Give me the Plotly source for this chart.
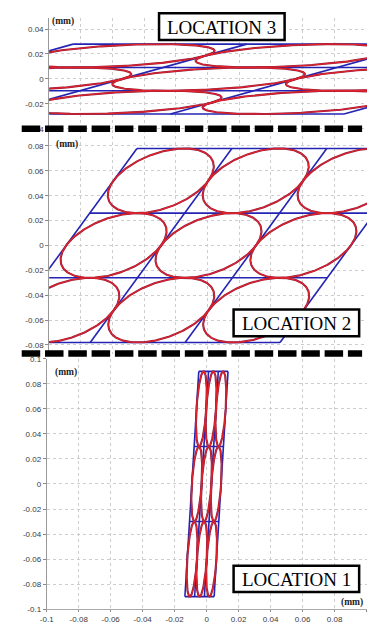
import numpy as np
import plotly.graph_objects as go

W, H = 367, 625

# Lattice (mm): corner of the 3x3 patch, cell vectors a and b
LOC3_ORIGIN = [-0.2427, -0.0282]
LOC3_A = [0.1096, 0.0]
LOC3_B = [0.0526, 0.0187]

LOC2_ORIGIN = [-0.134, -0.078]
LOC2_A = [0.0599, 0.0]
LOC2_B = [0.0298, 0.052]

LOC1_ORIGIN = [-0.0136, -0.090]
LOC1_A = [0.0061, 0.0]
LOC1_B = [0.0029, 0.060]

N_CELLS = 3

X_TICKS = [-0.1, -0.08, -0.06, -0.04, -0.02, 0, 0.02, 0.04, 0.06, 0.08, 0.1]
X_TEXT = ["-0.1", "-0.08", "-0.06", "-0.04", "-0.02", "0", "0.02", "0.04", "0.06", "0.08", "0.1"]
P1_YTICKS = [0.04, 0.02, 0, -0.02, -0.04]
P1_YTEXT = ["0.04", "0.02", "0", "-0.02", "-0.04"]
P2_YTICKS = [0.08, 0.06, 0.04, 0.02, 0, -0.02, -0.04, -0.06, -0.08]
P2_YTEXT = ["0.08", "0.06", "0.04", "0.02", "0", "-0.02", "-0.04", "-0.06", "-0.08"]
P3_YTICKS = [0.1, 0.08, 0.06, 0.04, 0.02, 0, -0.02, -0.04, -0.06, -0.08, -0.1]
P3_YTEXT = ["0.1", "0.08", "0.06", "0.04", "0.02", "0", "-0.02", "-0.04", "-0.06", "-0.08", "-0.1"]

LABELS = ["LOCATION 3", "LOCATION 2", "LOCATION 1"]

BLUE = "#2424b4"
RED = "#e3222a"
DARKRED = "#922040"


def lattice(origin, a, b, n):
    o, a, b = np.array(origin), np.array(a), np.array(b)
    xs, ys = [], []
    for j in range(n + 1):
        p = o + j * b
        q = p + n * a
        xs += [p[0], q[0], None]
        ys += [p[1], q[1], None]
    for i in range(n + 1):
        p = o + i * a
        q = p + n * b
        xs += [p[0], q[0], None]
        ys += [p[1], q[1], None]
    return xs, ys


def ellipses(origin, a, b, n):
    o, a, b = np.array(origin), np.array(a), np.array(b)
    t = np.linspace(0, 2 * np.pi, 241)
    xs, ys = [], []
    for i in range(n):
        for j in range(n):
            c = o + (i + 0.5) * a + (j + 0.5) * b
            px = c[0] + 0.5 * (np.cos(t) * a[0] + np.sin(t) * b[0])
            py = c[1] + 0.5 * (np.cos(t) * a[1] + np.sin(t) * b[1])
            xs += list(px) + [None]
            ys += list(py) + [None]
    return xs, ys


fig = go.Figure()
panels = [
    (LOC3_ORIGIN, LOC3_A, LOC3_B, "x", "y"),
    (LOC2_ORIGIN, LOC2_A, LOC2_B, "x2", "y2"),
    (LOC1_ORIGIN, LOC1_A, LOC1_B, "x3", "y3"),
]
for origin, a, b, xa, ya in panels:
    lx, ly = lattice(origin, a, b, N_CELLS)
    fig.add_trace(go.Scatter(x=lx, y=ly, mode="lines", xaxis=xa, yaxis=ya,
                             line=dict(color=BLUE, width=1.6), hoverinfo="skip"))
    ex, ey = ellipses(origin, a, b, N_CELLS)
    fig.add_trace(go.Scatter(x=ex, y=ey, mode="lines", xaxis=xa, yaxis=ya,
                             line=dict(color=DARKRED, width=2.1), hoverinfo="skip"))
    fig.add_trace(go.Scatter(x=ex, y=ey, mode="lines", xaxis=xa, yaxis=ya,
                             line=dict(color=RED, width=1.1), hoverinfo="skip"))


def px_x(p):
    return p / W


def px_y(p):
    return 1 - p / H


tickfont = dict(family="Liberation Sans, Arial", size=8, color="#3a3a3a")
grid = dict(showgrid=True, gridcolor="#cdcdcd", griddash="dot", gridwidth=1, zeroline=False)

fig.update_layout(
    xaxis=dict(domain=[px_x(43), 1], range=[-0.1, 0.1006], anchor="y",
               tickvals=X_TICKS, showticklabels=False, ticks="", showline=False, **grid),
    yaxis=dict(domain=[px_y(128), px_y(14)], range=[(76 - 128) / 1265, (76 - 14) / 1265], anchor="x",
               tickvals=P1_YTICKS, ticktext=P1_YTEXT, ticks="outside", ticklen=3, tickcolor="#888",
               showline=True, linecolor="#999", linewidth=1, tickfont=tickfont, **grid),
    xaxis2=dict(domain=[px_x(43), 1], range=[-0.1, 0.1006], anchor="y2",
                tickvals=X_TICKS, showticklabels=False, ticks="", showline=False, **grid),
    yaxis2=dict(domain=[px_y(355), px_y(128)], range=[(245 - 355) / 1262, (245 - 128) / 1262], anchor="x2",
                tickvals=P2_YTICKS, ticktext=P2_YTEXT, ticks="outside", ticklen=3, tickcolor="#888",
                showline=True, linecolor="#999", linewidth=1, tickfont=tickfont, **grid),
    xaxis3=dict(domain=[px_x(40.5), 1], range=[-0.1, 0.1003], anchor="y3",
                tickvals=X_TICKS, ticktext=X_TEXT, ticks="outside", ticklen=2, tickcolor="#888",
                showline=True, linecolor="#aaa", linewidth=1, tickfont=tickfont, **grid),
    yaxis3=dict(domain=[px_y(614), px_y(360)], range=[-0.1, 0.1], anchor="x3",
                tickvals=P3_YTICKS, ticktext=P3_YTEXT, ticks="outside", ticklen=3, tickcolor="#888",
                showline=True, linecolor="#999", linewidth=1, tickfont=tickfont, **grid),
)

shapes = []
for yy in [126.5, 354.5]:
    shapes.append(dict(type="line", xref="paper", yref="paper", x0=px_x(15), x1=px_x(362),
                       y0=px_y(yy), y1=px_y(yy), layer="above",
                       line=dict(color="black", width=6.5, dash="18.5px,4.8px")))
boxes = [(155, 9.5, 283, 36.5), (231, 310, 359, 337), (231, 570, 359, 596.5)]
for (x0, y0, x1, y1) in boxes:
    shapes.append(dict(type="rect", xref="paper", yref="paper", x0=px_x(x0), x1=px_x(x1),
                       y0=px_y(y1), y1=px_y(y0), layer="above", fillcolor="white",
                       line=dict(color="black", width=2.5)))
fig.update_layout(shapes=shapes)

annotations = []
for (x0, y0, x1, y1), lab in zip(boxes, LABELS):
    annotations.append(dict(xref="paper", yref="paper", x=px_x((x0 + x1) / 2), y=px_y((y0 + y1) / 2 + 1),
                            text=lab, showarrow=False, xanchor="center", yanchor="middle",
                            font=dict(family="Liberation Serif, Times New Roman", size=19, color="black")))
mm_pos = [(57, 18), (61, 142.5), (60.5, 373.5), (351.5, 607.5)]
for (mx, my) in mm_pos:
    annotations.append(dict(xref="paper", yref="paper", x=px_x(mx), y=px_y(my), text="<b>(mm)</b>",
                            showarrow=False, xanchor="center", yanchor="middle",
                            font=dict(family="Liberation Serif, Times New Roman", size=9.5, color="#222")))
fig.update_layout(annotations=annotations)

fig.update_layout(width=W, height=H, margin=dict(l=0, r=0, t=0, b=0), showlegend=False,
                  paper_bgcolor="white", plot_bgcolor="white")

fig.write_html("out.html")
